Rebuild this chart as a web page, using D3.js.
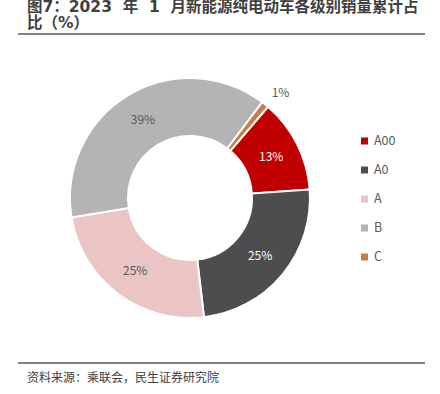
<!DOCTYPE html>
<html>
<head>
<meta charset="utf-8">
<script src="https://cdn.jsdelivr.net/npm/d3@7"></script>
<style>
  body { margin: 0; background: #fff; }
  svg { display: block; font-family: "Noto Sans CJK SC", "Noto Sans", sans-serif; }
</style>
</head>
<body>
<div id="chart"></div>
<script>
const width = 440;
const height = 394;

// Chart data
const categories = ['A00', 'A0', 'A', 'B', 'C'];
const shares = [13, 25, 25, 39, 1];
const colors = ['#c00000', '#4d4d4f', '#ebc4c4', '#b4b4b4', '#c97c47'];
const labelColors = ['#ffffff', '#ffffff', '#595959', '#595959', '#595959'];

const svg = d3.select('#chart')
  .append('svg')
  .attr('width', width)
  .attr('height', height);

// Title (latin glyphs from DejaVu, CJK falls back)
const title = svg.append('text')
  .attr('x', 27)
  .attr('font-size', 15.5)
  .attr('font-weight', 'bold')
  .attr('fill', '#404040')
  .style('font-family', '"DejaVu Sans", "Noto Sans CJK SC", sans-serif')
  .style('white-space', 'pre');
title.append('tspan').attr('x', 27).attr('y', 12).text('图7：2023  年  1  月新能源纯电动车各级别销量累计占');
title.append('tspan').attr('x', 27).attr('y', 28).text('比（%）');

// Rules
svg.append('line')
  .attr('x1', 18).attr('x2', 425).attr('y1', 34).attr('y2', 34)
  .attr('stroke', '#595959').attr('stroke-width', 1.5);
svg.append('line')
  .attr('x1', 18).attr('x2', 425).attr('y1', 363).attr('y2', 363)
  .attr('stroke', '#595959').attr('stroke-width', 1.5);

// Source
svg.append('text')
  .attr('x', 27).attr('y', 382)
  .attr('font-size', 12)
  .attr('fill', '#404040')
  .text('资料来源：乘联会，民生证券研究院');

// Donut
const cx = 190, cy = 198;
const outer = 120, inner = 62;
const start = 40.5 * Math.PI / 180;

const pie = d3.pie()
  .sort(null)
  .value(d => d)
  .startAngle(start)
  .endAngle(start + 2 * Math.PI);
const arcs = pie(shares);
const arc = d3.arc().innerRadius(inner).outerRadius(outer);
const labelArc = d3.arc().innerRadius(91).outerRadius(91);
const outsideArc = d3.arc().innerRadius(outer + 15).outerRadius(outer + 15);

const g = svg.append('g').attr('transform', `translate(${cx},${cy})`);
g.selectAll('path.slice')
  .data(arcs)
  .enter()
  .append('path')
  .attr('class', 'slice')
  .attr('d', arc)
  .attr('fill', (d, i) => colors[i])
  .attr('stroke', '#fff')
  .attr('stroke-width', 2);

g.selectAll('text.lbl')
  .data(arcs)
  .enter()
  .append('text')
  .attr('class', 'lbl')
  .attr('transform', (d, i) => {
    let p = (shares[i] < 5) ? outsideArc.centroid(d) : labelArc.centroid(d);
    if (shares[i] < 5) p = [p[0] + 6, p[1]];
    return `translate(${p[0]},${p[1]})`;
  })
  .attr('text-anchor', 'middle')
  .attr('dy', '0.35em')
  .attr('font-size', 12)
  .attr('fill', (d, i) => labelColors[i])
  .text((d, i) => shares[i] + '%');

// Legend
const legend = svg.append('g').attr('transform', 'translate(361,141)');
const rows = legend.selectAll('g')
  .data(categories)
  .enter()
  .append('g')
  .attr('transform', (d, i) => `translate(0,${i * 29})`);
rows.append('rect')
  .attr('x', 0).attr('y', -3.5)
  .attr('width', 7).attr('height', 7)
  .attr('fill', (d, i) => colors[i]);
rows.append('text')
  .attr('x', 13)
  .attr('dy', '0.35em')
  .attr('font-size', 12.5)
  .attr('fill', '#595959')
  .text(d => d);
</script>
</body>
</html>
